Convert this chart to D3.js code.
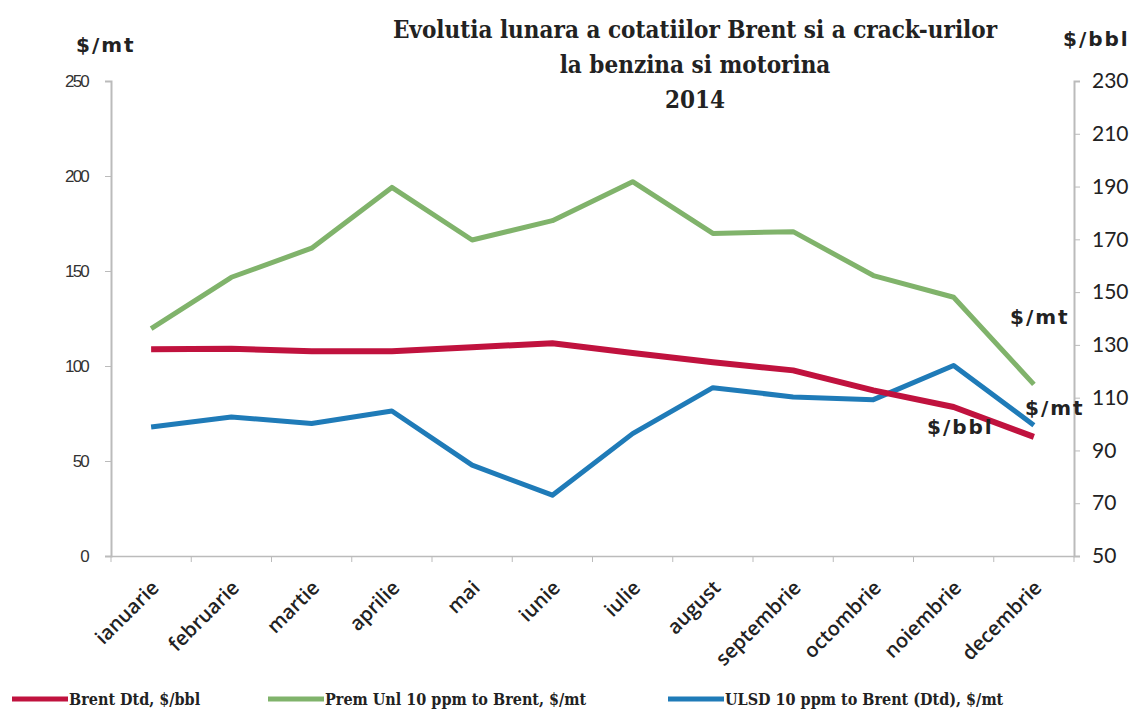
<!DOCTYPE html>
<html>
<head>
<meta charset="utf-8">
<script src="https://cdn.jsdelivr.net/npm/d3@7"></script>
<style>
  body { margin: 0; background: #fff; }
  svg { display: block; }
</style>
</head>
<body>
<svg id="chart"></svg>
<script>
// months and series (left axis units)
let months = ["ianuarie", "februarie", "martie", "aprilie", "mai", "iunie",
    "iulie", "august", "septembrie", "octombrie", "noiembrie", "decembrie"];
let brent = [108.8, 109.1, 107.8, 107.8, 109.9, 112, 106.8, 102, 97.7, 87.2, 78.4, 62.7];
let premUnl = [119.7, 146.7, 162, 194, 166.3, 176.5, 197, 169.8, 170.7, 147.6, 136.2, 90.3];
let ulsd = [67.9, 73.2, 69.7, 76.3, 47.8, 32, 64.4, 88.6, 83.7, 82.3, 100.3, 68.8];
let leftTicks = [0, 50, 100, 150, 200, 250];
let rightTicks = [50, 70, 90, 110, 130, 150, 170, 190, 210, 230];
let titleLines = ["Evolutia lunara a cotatiilor Brent si a crack-urilor", "la benzina si motorina", "2014"];
let seriesNames = ["Brent Dtd, $/bbl", "Prem Unl 10 ppm to Brent, $/mt", "ULSD 10 ppm to Brent (Dtd), $/mt"];
let seriesColors = ["#c0123e", "#80b36b", "#1f7bb8"];

function drawChart() {
    let width = 1137;
    let height = 713;
    let left = 111, right = 1074, top = 81, bottom = 556;

    let chart = d3.select("#chart").attr("width", width).attr("height", height)

    let xband = d3.scaleBand()
        .domain(months)
        .range([left, right])

    let xscale = d => xband(d) + xband.bandwidth() / 2

    let yscale = d3.scaleLinear()
        .domain([0, 250])
        .range([bottom, top])

    let y2scale = d3.scaleLinear()
        .domain([50, 230])
        .range([bottom, top])

    // left axis
    let la = chart.append("g")
        .attr("transform", "translate(" + left + ",0)")
        .call(d3.axisLeft(yscale).tickValues(leftTicks).tickSize(6).tickPadding(17))
    la.select(".domain").attr("stroke", "#bbb").attr("stroke-width", 2)
    la.selectAll(".tick line").attr("stroke", "#bbb")
    la.selectAll("text").attr("font-family", "Liberation Sans, Arial, sans-serif")
        .attr("font-size", 17).attr("fill", "#333").attr("letter-spacing", -1.8)

    // right axis
    let ra = chart.append("g")
        .attr("transform", "translate(" + right + ",0)")
        .call(d3.axisRight(y2scale).tickValues(rightTicks).tickSize(6).tickPadding(12))
    ra.select(".domain").attr("stroke", "#bbb").attr("stroke-width", 2)
    ra.selectAll(".tick line").attr("stroke", "#bbb")
    ra.selectAll("text").attr("font-family", "Lato, Open Sans, sans-serif")
        .attr("font-size", 21).attr("fill", "#222")

    // bottom axis with boundary ticks
    let xa = chart.append("g")
        .attr("transform", "translate(0," + bottom + ")")
        .call(d3.axisBottom(xband).tickSize(0).tickFormat(""))
    xa.select(".domain").attr("stroke", "#bbb").attr("stroke-width", 1.5)
    chart.selectAll("line.xtick").data(months.concat(["end"])).enter().append("line")
        .attr("class", "xtick")
        .attr("x1", d => d == "end" ? right : xband(d))
        .attr("x2", d => d == "end" ? right : xband(d))
        .attr("y1", bottom).attr("y2", bottom + 6)
        .attr("stroke", "#bbb")

    // month labels
    chart.selectAll("text.month").data(months).enter().append("text")
        .attr("class", "month")
        .attr("transform", d => "translate(" + (xscale(d) + 9) + "," + (bottom + 33) + ") rotate(-45)")
        .attr("text-anchor", "end")
        .attr("font-family", "Open Sans, Lato, sans-serif")
        .attr("font-weight", 600)
        .attr("font-size", 20)
        .attr("fill", "#222")
        .text(d => d)

    // lines
    let line = d3.line()
        .x((d, i) => xscale(months[i]))
        .y(d => yscale(d))

    let allSeries = [premUnl, ulsd, brent];
    let allColors = [seriesColors[1], seriesColors[2], seriesColors[0]];
    chart.selectAll("path.series").data(allSeries).enter().append("path")
        .attr("class", "series")
        .attr("d", d => line(d))
        .attr("fill", "none")
        .attr("stroke", (d, i) => allColors[i])
        .attr("stroke-width", (d, i) => i == 2 ? 6 : 5)
        .attr("stroke-linejoin", "round")

    // title
    chart.selectAll("text.title").data(titleLines).enter().append("text")
        .attr("class", "title")
        .attr("x", 695)
        .attr("y", (d, i) => 38 + i * 35)
        .attr("text-anchor", "middle")
        .attr("font-family", "DejaVu Serif Condensed, DejaVu Serif, serif")
        .attr("font-stretch", "condensed")
        .attr("font-weight", "bold")
        .attr("font-size", 24)
        .attr("fill", "#222")
        .text(d => d)

    // unit labels
    let units = [
        { t: "$/mt", x: 76, y: 52 },
        { t: "$/bbl", x: 1063, y: 46 },
        { t: "$/mt", x: 1010, y: 324 },
        { t: "$/mt", x: 1025, y: 415 },
        { t: "$/bbl", x: 927, y: 434 }
    ];
    chart.selectAll("text.unit").data(units).enter().append("text")
        .attr("class", "unit")
        .attr("x", d => d.x).attr("y", d => d.y)
        .attr("font-family", "DejaVu Sans, sans-serif")
        .attr("font-weight", "bold")
        .attr("font-size", 20)
        .attr("letter-spacing", 2)
        .attr("fill", "#222")
        .text(d => d.t)

    // legend
    let legendX = [12, 268, 668];
    let legend = chart.selectAll("g.legend").data(seriesNames).enter().append("g")
        .attr("class", "legend")
        .attr("transform", (d, i) => "translate(" + legendX[i] + ",699)")
    legend.append("line")
        .attr("x1", 0).attr("x2", 56)
        .attr("stroke", (d, i) => seriesColors[i])
        .attr("stroke-width", 5)
    legend.append("text")
        .attr("x", 57).attr("y", 6)
        .attr("font-family", "DejaVu Serif Condensed, DejaVu Serif, serif")
        .attr("font-stretch", "condensed")
        .attr("font-weight", "bold")
        .attr("font-size", 16)
        .attr("fill", "#222")
        .text(d => d)
}

drawChart();
</script>
</body>
</html>
